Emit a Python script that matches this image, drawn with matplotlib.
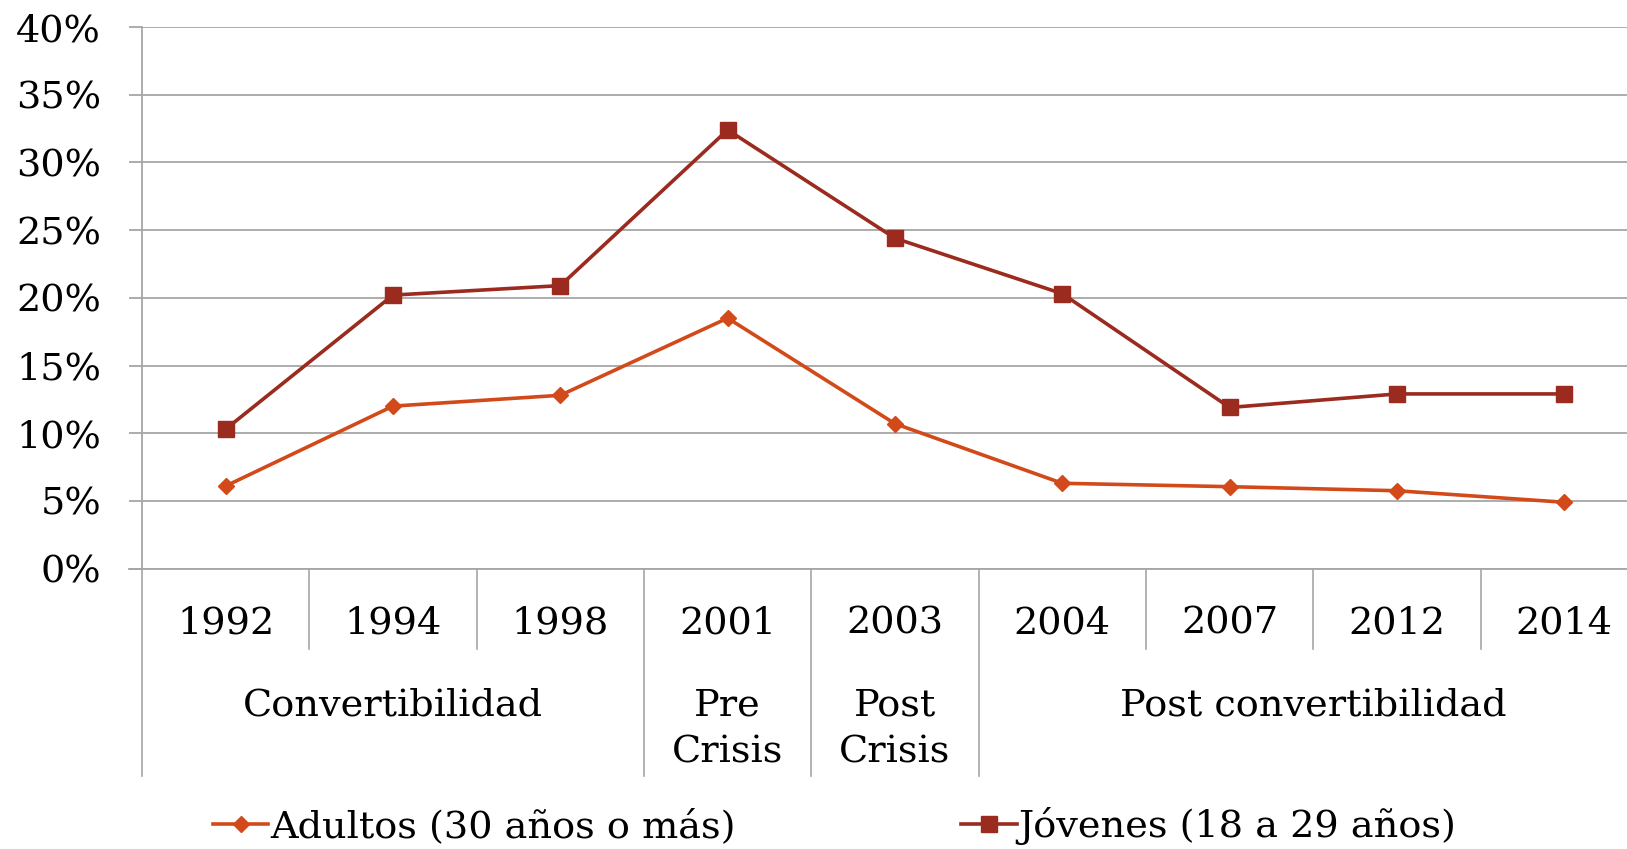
import matplotlib
matplotlib.use("Agg")
import matplotlib.pyplot as plt
import matplotlib.transforms as mtransforms
from matplotlib.ticker import FuncFormatter, MultipleLocator

years = ["1992", "1994", "1998", "2001", "2003", "2004", "2007", "2012", "2014"]
groups = ["Convertibilidad", "Pre\nCrisis", "Post\nCrisis", "Post convertibilidad"]
group_sizes = [3, 1, 1, 4]
adultos = [6.1, 12.0, 12.8, 18.5, 10.7, 6.3, 6.05, 5.75, 4.9]
jovenes = [10.3, 20.2, 20.9, 32.4, 24.4, 20.3, 11.9, 12.9, 12.9]
series_labels = ["Adultos (30 años o más)", "Jóvenes (18 a 29 años)"]

plt.rcParams['font.family'] = ['DejaVu Serif']
FS = 27.5

W, H = 1627, 849
fig = plt.figure(figsize=(W / 100, H / 100), dpi=100)
left_px, right_px, top_px, bot_px = 142, 1648, 27, 568.6
ax = fig.add_axes([left_px / W, (H - bot_px) / H, (right_px - left_px) / W, (bot_px - top_px) / H])

x = list(range(len(years)))
c_ad = "#D24A1A"
c_jo = "#9B2A1F"
l1, = ax.plot(x, adultos, color=c_ad, lw=2.6, marker="D", ms=8, label=series_labels[0])
l2, = ax.plot(x, jovenes, color=c_jo, lw=2.6, marker="s", ms=11, label=series_labels[1])

ax.set_xlim(-0.5, len(years) - 0.5)
ax.set_ylim(0, 40)
ax.yaxis.set_major_locator(MultipleLocator(5))
ax.yaxis.set_major_formatter(FuncFormatter(lambda v, p: f"{v:.0f}%"))
ax.grid(axis="y", color="#A6A6A6", lw=1.3)
ax.set_axisbelow(True)
for s in ["top", "right", "bottom"]:
    ax.spines[s].set_visible(False)
ax.spines["left"].set_color("#A6A6A6")
ax.spines["left"].set_linewidth(1.3)
ax.tick_params(axis="y", length=9.5, width=1.3, color="#A6A6A6", pad=20, labelsize=FS)
ax.set_xticks([])

ax_h = bot_px - top_px
def ay(px):
    return (bot_px - px) / ax_h

trans = mtransforms.blended_transform_factory(ax.transData, ax.transAxes)
# bottom axis line (0% line extends left)
ax.plot([-0.5 - 13 / (right_px - left_px) * 9, len(years) - 0.5], [0, 0], transform=trans,
        color="#A6A6A6", lw=1.3, clip_on=False)

# category separators
boundaries = [-0.5]
acc = -0.5
for g in group_sizes:
    acc += g
    boundaries.append(acc)
y_minor = ay(648.5)
y_major = ay(776)
for i in range(len(years) + 1):
    xb = i - 0.5
    if xb > len(years) - 0.5:
        continue
    bottom = y_major if any(abs(xb - b) < 1e-9 for b in boundaries) else y_minor
    ax.plot([xb, xb], [0, bottom], transform=trans, color="#A6A6A6", lw=1.2, clip_on=False)

for xi, yl in zip(x, years):
    ax.text(xi, ay(624), yl, transform=trans, ha="center", va="center", fontsize=FS)

start = -0.5
for g, n in zip(groups, group_sizes):
    cx = start + n / 2
    ax.text(cx, ay(688), g, transform=trans, ha="center", va="top", fontsize=FS, linespacing=1.36)
    start += n

leg = fig.legend(handles=[l1, l2], loc="center", bbox_to_anchor=(0.513, (H - 826) / H),
                 ncol=2, frameon=False, fontsize=FS, handlelength=1.45, handletextpad=0.05,
                 columnspacing=5.9, borderaxespad=0, borderpad=0)

fig.savefig("out.png", dpi=100)
